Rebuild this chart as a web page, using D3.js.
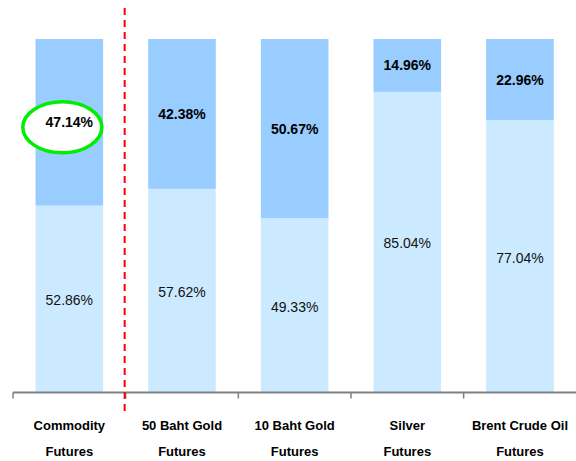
<!DOCTYPE html>
<html>
<head>
<meta charset="utf-8">
<script src="https://cdn.jsdelivr.net/npm/d3@7"></script>
<style>
  body { margin: 0; background: #fff; }
  text { font-family: "Liberation Sans", Arial, sans-serif; }
</style>
</head>
<body>
<svg width="576" height="461"></svg>
<script>
// categories (two lines each) and the two stacked shares
var categories = ["Commodity Futures", "50 Baht Gold Futures", "10 Baht Gold Futures", "Silver Futures", "Brent Crude Oil Futures"];
var labelLines = [["Commodity", "Futures"], ["50 Baht Gold", "Futures"], ["10 Baht Gold", "Futures"], ["Silver", "Futures"], ["Brent Crude Oil", "Futures"]];
var lowerShare = [52.86, 57.62, 49.33, 85.04, 77.04];
var upperShare = [47.14, 42.38, 50.67, 14.96, 22.96];

var svg = d3.select("svg");

var x = d3.scaleBand().domain(categories).range([13, 576.3]).paddingInner(0.4).paddingOuter(0.2);
var y = d3.scaleLinear().domain([0, 100]).range([392.5, 39]);

var rows = categories.map(function(c, i) {
  return { cat: c, lines: labelLines[i], lo: lowerShare[i], hi: upperShare[i] };
});

// lower (light) segment
svg.append("g").selectAll("rect").data(rows).enter().append("rect")
  .attr("x", function(d) { return x(d.cat); })
  .attr("width", x.bandwidth())
  .attr("y", function(d) { return y(d.lo); })
  .attr("height", function(d) { return y(0) - y(d.lo); })
  .attr("fill", "#cceaff");

// upper (darker) segment
svg.append("g").selectAll("rect").data(rows).enter().append("rect")
  .attr("x", function(d) { return x(d.cat); })
  .attr("width", x.bandwidth())
  .attr("y", function(d) { return y(d.lo + d.hi); })
  .attr("height", function(d) { return y(d.lo) - y(d.lo + d.hi); })
  .attr("fill", "#99ccff");

// boundaries between categories, used for ticks and divider
var step = x.step();
var edges = categories.map(function(c) { return x(c) - step * x.paddingInner() / 2; });

// axis
var axis = svg.append("g");
axis.append("line")
  .attr("x1", 13).attr("x2", 576).attr("y1", y(0)).attr("y2", y(0))
  .attr("stroke", "#808080").attr("stroke-width", 2);
axis.selectAll(".tick").data(edges).enter().append("line")
  .attr("x1", function(d) { return d; }).attr("x2", function(d) { return d; })
  .attr("y1", y(0)).attr("y2", y(0) + 6)
  .attr("stroke", "#808080").attr("stroke-width", 1.5);

// category labels
var lab = svg.append("g").selectAll("text").data(rows).enter().append("text")
  .attr("text-anchor", "middle")
  .attr("font-size", 13).attr("font-weight", "bold").attr("fill", "#000");
lab.each(function(d) {
  var t = d3.select(this);
  d.lines.forEach(function(l, k) {
    t.append("tspan")
      .attr("x", x(d.cat) + x.bandwidth() / 2)
      .attr("y", 430 + k * 26)
      .text(l);
  });
});

// red dashed divider after the first category
svg.append("line")
  .attr("x1", edges[1] - 1).attr("x2", edges[1] - 1)
  .attr("y1", 8).attr("y2", 415)
  .attr("stroke", "#ff0000").attr("stroke-width", 2)
  .attr("stroke-dasharray", "7,5");

// green highlight ellipse on the first upper value
var first = rows[0];
svg.append("ellipse")
  .attr("cx", x(first.cat) + x.bandwidth() / 2 - 7)
  .attr("cy", (y(first.lo) + y(100)) / 2 + 5)
  .attr("rx", 39.5).attr("ry", 25.5)
  .attr("fill", "#fff").attr("stroke", "#00ee00").attr("stroke-width", 3.5);

// value labels
svg.append("g").selectAll("text").data(rows).enter().append("text")
  .attr("x", function(d) { return x(d.cat) + x.bandwidth() / 2; })
  .attr("y", function(d) { return (y(d.lo) + y(d.lo + d.hi)) / 2; })
  .attr("dy", "0.36em")
  .attr("text-anchor", "middle")
  .attr("font-size", 14).attr("font-weight", "bold").attr("fill", "#000")
  .text(function(d) { return d.hi.toFixed(2) + "%"; });

svg.append("g").selectAll("text").data(rows).enter().append("text")
  .attr("x", function(d) { return x(d.cat) + x.bandwidth() / 2; })
  .attr("y", function(d) { return (y(0) + y(d.lo)) / 2; })
  .attr("dy", "0.45em")
  .attr("text-anchor", "middle")
  .attr("font-size", 14).attr("fill", "#111")
  .text(function(d) { return d.lo.toFixed(2) + "%"; });
</script>
</body>
</html>
